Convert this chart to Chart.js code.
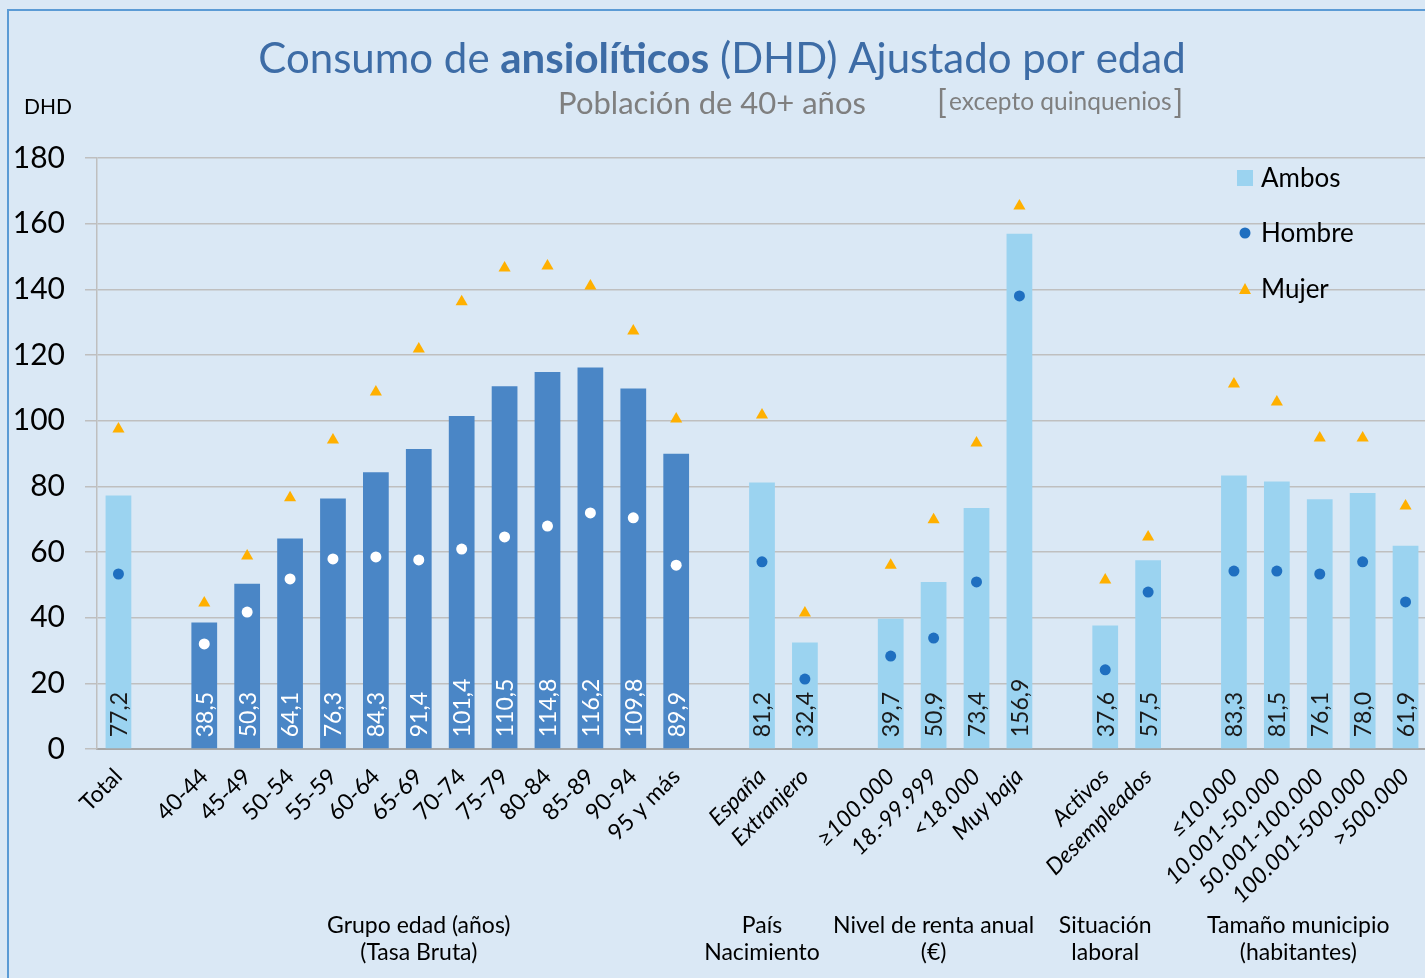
<!DOCTYPE html>
<html>
<head>
<meta charset="utf-8">
<script src="https://cdn.jsdelivr.net/npm/chart.js@4.4.0/dist/chart.umd.min.js"></script>
<style>
    html, body { margin: 0; padding: 0; background: #DAE8F5; overflow: hidden; }
    #wrap { width: 1425px; height: 978px; position: relative; overflow: hidden; }
</style>
</head>
<body>
<div id="wrap"><canvas id="chart" width="1434" height="978"></canvas></div>
<script>
// categories ("" = empty slot between groups)
const labels = ["Total", "",
    "40-44", "45-49", "50-54", "55-59", "60-64", "65-69", "70-74", "75-79", "80-84", "85-89", "90-94", "95 y más", "",
    "España", "Extranjero", "",
    "≥100.000", "18.-99.999", "<18.000", "Muy baja", "",
    "Activos", "Desempleados", "",
    "≤10.000", "10.001-50.000", "50.001-100.000", "100.001-500.000", ">500.000"];

const ambos = [77.2, null,
    38.5, 50.3, 64.1, 76.3, 84.3, 91.4, 101.4, 110.5, 114.8, 116.2, 109.8, 89.9, null,
    81.2, 32.4, null,
    39.7, 50.9, 73.4, 156.9, null,
    37.6, 57.5, null,
    83.3, 81.5, 76.1, 78.0, 61.9];

const hombre = [53.3, null,
    32.0, 41.7, 51.8, 57.9, 58.5, 57.6, 60.9, 64.6, 67.9, 71.9, 70.4, 56.0, null,
    57.0, 21.3, null,
    28.3, 33.8, 50.9, 138.0, null,
    24.1, 47.8, null,
    54.2, 54.2, 53.3, 57.0, 44.8];

const mujer = [97.5, null,
    44.5, 58.8, 76.5, 94.1, 108.7, 121.8, 136.2, 146.5, 147.1, 141.0, 127.3, 100.5, null,
    101.7, 41.4, null,
    56.0, 69.8, 93.2, 165.4, null,
    51.5, 64.6, null,
    111.2, 105.7, 94.7, 94.7, 74.0];

const yTicks = [0, 20, 40, 60, 80, 100, 120, 140, 160, 180];

// group captions under the axis: [text lines, slot index to centre on]
const groups = [
    [["Grupo edad (años)", "(Tasa Bruta)"], 7],
    [["País", "Nacimiento"], 15],
    [["Nivel de renta anual", "(€)"], 19],
    [["Situación", "laboral"], 23],
    [["Tamaño municipio", "(habitantes)"], 27.5]
];

const FONT = "Lato";
const DARK = "#4A86C6";
const LIGHT = "#9BD3F0";
const isAge = (i) => i >= 2 && i <= 13;

const barColors = labels.map((l, i) => isAge(i) ? DARK : LIGHT);
const dotColors = labels.map((l, i) => isAge(i) ? "#FFFFFF" : "#1F6FC0");

const frame = {
    id: "frame",
    beforeDraw(chart) {
        const ctx = chart.ctx;
        ctx.save();
        ctx.fillStyle = "#DAE8F5";
        ctx.fillRect(0, 0, chart.width, chart.height);
        ctx.strokeStyle = "#5B9BD5";
        ctx.lineWidth = 2;
        ctx.strokeRect(8, 10, chart.width + 20, chart.height + 20);
        ctx.restore();
    },
    afterDraw(chart) {
        const ctx = chart.ctx;
        const x = chart.scales.x;
        ctx.save();

        // title with bold word
        const parts = [["Consumo de ", "normal"], ["ansiolíticos", "bold"], [" (DHD) Ajustado por edad", "normal"]];
        let total = 0;
        parts.forEach(p => { ctx.font = p[1] + " 42px " + FONT; total += ctx.measureText(p[0]).width; });
        let tx = 722 - total / 2;
        ctx.fillStyle = "#3D6CA6";
        ctx.textBaseline = "alphabetic";
        ctx.textAlign = "left";
        parts.forEach(p => {
            ctx.font = p[1] + " 42px " + FONT;
            ctx.fillText(p[0], tx, 73);
            tx += ctx.measureText(p[0]).width;
        });

        // subtitle
        ctx.fillStyle = "#7F7F7F";
        ctx.font = "31px " + FONT;
        ctx.textAlign = "center";
        ctx.fillText("Población de 40+ años", 712, 114);
        ctx.textAlign = "left";
        ctx.font = "32px " + FONT;
        ctx.fillText("[", 937, 113);
        ctx.font = "24.5px " + FONT;
        ctx.fillText("excepto quinquenios", 949, 110);
        const w = ctx.measureText("excepto quinquenios").width;
        ctx.font = "32px " + FONT;
        ctx.fillText("]", 951 + w, 113);

        // y unit
        ctx.fillStyle = "#000";
        ctx.font = "21px " + FONT;
        ctx.fillText("DHD", 24, 114);

        // group captions
        ctx.font = "23px " + FONT;
        ctx.textAlign = "center";
        groups.forEach(g => {
            const cx = x.getPixelForValue(g[1]);
            ctx.fillText(g[0][0], cx, 933);
            ctx.fillText(g[0][1], cx, 960);
        });

        // legend
        const lx = 1245;
        ctx.font = "26px " + FONT;
        ctx.textAlign = "left";
        ctx.textBaseline = "middle";
        ctx.fillStyle = LIGHT;
        ctx.fillRect(lx - 8, 170, 16, 16);
        ctx.fillStyle = "#1F6FC0";
        ctx.beginPath(); ctx.arc(lx, 233, 5.5, 0, Math.PI * 2); ctx.fill();
        ctx.fillStyle = "#FFB000";
        ctx.beginPath(); ctx.moveTo(lx, 283); ctx.lineTo(lx + 6, 294); ctx.lineTo(lx - 6, 294); ctx.closePath(); ctx.fill();
        ctx.fillStyle = "#000";
        ctx.fillText("Ambos", 1261, 179);
        ctx.fillText("Hombre", 1261, 234);
        ctx.fillText("Mujer", 1261, 290);
        ctx.restore();
    }
};

const barValues = {
    id: "barValues",
    afterDatasetsDraw(chart) {
        const ctx = chart.ctx;
        const meta = chart.getDatasetMeta(0);
        ctx.save();
        ctx.font = "23px " + FONT;
        ctx.textAlign = "left";
        ctx.textBaseline = "middle";
        meta.data.forEach((bar, i) => {
            const v = ambos[i];
            if (v === null) return;
            ctx.save();
            ctx.translate(bar.x, bar.base - 11);
            ctx.rotate(-Math.PI / 2);
            ctx.fillStyle = isAge(i) ? "#FFFFFF" : "#1A1A1A";
            ctx.fillText(v.toFixed(1).replace(".", ","), 0, 1);
            ctx.restore();
        });
        ctx.restore();
    }
};

new Chart(document.getElementById("chart"), {
    type: "bar",
    data: {
        labels: labels,
        datasets: [{
            label: "Ambos",
            data: ambos,
            backgroundColor: barColors,
            barPercentage: 0.6,
            categoryPercentage: 1,
            order: 10
        }, {
            type: "line",
            label: "Hombre",
            data: hombre,
            showLine: false,
            pointStyle: "circle",
            pointRadius: 5.5,
            pointBackgroundColor: dotColors,
            pointBorderWidth: 0,
            order: 2
        }, {
            type: "line",
            label: "Mujer",
            data: mujer,
            showLine: false,
            pointStyle: "triangle",
            pointRadius: 7,
            pointBackgroundColor: "#FFB000",
            pointBorderWidth: 0,
            order: 1
        }]
    },
    options: {
        responsive: false,
        animation: false,
        layout: { padding: { top: 158, right: 0, left: 0, bottom: 0 } },
        plugins: {
            legend: { display: false },
            tooltip: { enabled: false }
        },
        scales: {
            x: {
                afterFit: (scale) => {
                    scale.height = 229;
                },
                grid: { display: false },
                border: { display: true, color: "#A6A6A6", width: 2 },
                ticks: {
                    autoSkip: false,
                    maxRotation: 45,
                    minRotation: 45,
                    padding: 6,
                    color: "#000",
                    font: (c) => ({ family: FONT, size: 23, style: c.index >= 15 ? "italic" : "normal" })
                }
            },
            y: {
                min: 0,
                max: 180,
                afterFit: (scale) => { scale.width = 97; },
                afterBuildTicks: (scale) => { scale.ticks = yTicks.map(v => ({ value: v })); },
                grid: { color: "#BFBFBF", lineWidth: 1.5, tickLength: 12 },
                border: { display: true, color: "#BFBFBF", width: 1.5 },
                ticks: {
                    padding: 20,
                    color: "#000",
                    font: { family: FONT, size: 30 }
                }
            }
        }
    },
    plugins: [frame, barValues]
});
</script>
</body>
</html>
